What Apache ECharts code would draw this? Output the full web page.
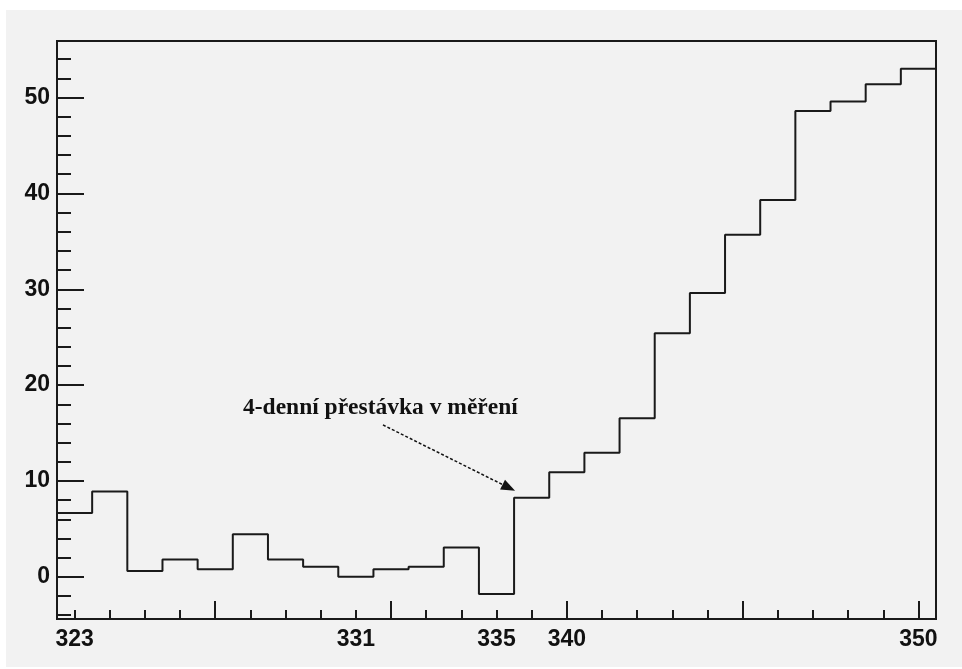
<!DOCTYPE html>
<html>
<head>
<meta charset="utf-8">
<script src="https://cdn.jsdelivr.net/npm/echarts@6/dist/echarts.min.js"></script>
<style>
  html, body { margin: 0; padding: 0; background: #ffffff; }
  #chart { position: absolute; left: 6px; top: 10px; width: 956px; height: 657px; background: #f2f2f2; }
</style>
</head>
<body>
<div id="chart"></div>
<script>
// histogram bins (day index)
const counts = [6.65, 8.9, 0.6, 1.8, 0.8, 4.45, 1.8, 1.05, 0.0, 0.8, 1.05, 3.05, -1.8,
  8.25, 10.9, 12.95, 16.55, 25.4, 29.6, 35.7, 39.3, 48.6, 49.6, 51.4, 53.0];
// labelled bins (1-based) and their tick labels
const xLabelBins = [1, 9, 13, 15, 25];
const xLabels = ['323', '331', '335', '340', '350'];
const yLabels = [0, 10, 20, 30, 40, 50];
const yMinor = [-4, -2, 2, 4, 6, 8, 12, 14, 16, 18, 22, 24, 26, 28, 32, 34, 36, 38, 42, 44, 46, 48, 52, 54];
const note = '4-denní přestávka v měření';

const nBins = counts.length;
// bin centres for ticks
const centres = counts.map((v, i) => i + 0.5);
const majorCentres = centres.filter((c, i) => (i + 1) % 5 === 0);
const labelPos = xLabelBins.map(b => b - 0.5);

// step line: left edge of every bin, plus right edge of the last one
let stepData = counts.map((v, i) => [i, v]);
stepData.push([nBins, counts[nBins - 1]]);

const ink = '#1a1a1a';
const tickFont = { color: '#111', fontFamily: 'Liberation Sans, Arial', fontWeight: 'bold', fontSize: 23 };

let chart = echarts.init(document.getElementById('chart'));
chart.setOption({
  animation: false,
  grid: { left: 51, right: 26, top: 31, bottom: 48, show: true, borderColor: ink, borderWidth: 2, backgroundColor: 'transparent' },
  xAxis: [
    {
      type: 'value', min: 0, max: nBins, position: 'bottom',
      axisLine: { show: true, onZero: false, lineStyle: { color: ink, width: 2 } },
      axisTick: { show: true, inside: true, length: 9, customValues: centres, lineStyle: { color: ink, width: 2 } },
      axisLabel: { show: false },
      splitLine: { show: false }
    },
    {
      type: 'value', min: 0, max: nBins, position: 'bottom',
      axisLine: { show: false, onZero: false },
      axisTick: { show: true, inside: true, length: 18, customValues: majorCentres, lineStyle: { color: ink, width: 2 } },
      axisLabel: Object.assign({
        show: true, margin: 9, customValues: labelPos,
        formatter: v => {
          const k = labelPos.findIndex(p => Math.abs(p - v) < 1e-6);
          return k >= 0 ? xLabels[k] : '';
        }
      }, tickFont),
      splitLine: { show: false }
    }
  ],
  yAxis: [
    {
      type: 'value', min: -4.4, max: 55.9, position: 'left',
      axisLine: { show: true, onZero: false, lineStyle: { color: ink, width: 2 } },
      axisTick: { show: true, inside: true, length: 14, customValues: yMinor, lineStyle: { color: ink, width: 2 } },
      axisLabel: { show: false },
      splitLine: { show: false }
    },
    {
      type: 'value', min: -4.4, max: 55.9, position: 'left',
      axisLine: { show: false, onZero: false },
      axisTick: { show: true, inside: true, length: 27, customValues: yLabels, lineStyle: { color: ink, width: 2 } },
      axisLabel: Object.assign({ show: true, margin: 7, padding: [6, 0, 0, 0], customValues: yLabels }, tickFont),
      splitLine: { show: false }
    }
  ],
  series: [
    {
      type: 'line',
      step: 'end',
      data: stepData,
      showSymbol: false,
      silent: true,
      lineStyle: { color: ink, width: 2 },
      markLine: {
        silent: true,
        symbol: ['none', 'triangle'],
        symbolSize: [11, 14],
        label: { show: false },
        lineStyle: { color: '#111', width: 1.5, type: [3, 2] },
        data: [[{ coord: [9.27, 15.85] }, { coord: [12.85, 9.3] }]]
      }
    }
  ],
  graphic: [
    {
      type: 'text', left: 237, top: 386,
      style: { text: note, fill: '#111', font: 'bold 23.5px "Liberation Serif", "Times New Roman", serif' }
    }
  ]
});
</script>
</body>
</html>
